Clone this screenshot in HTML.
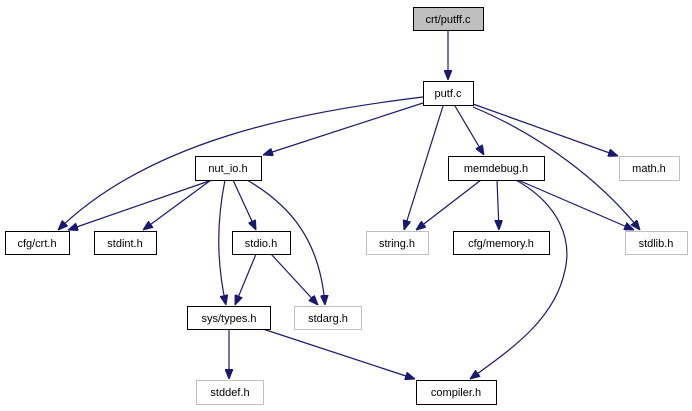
<!DOCTYPE html>
<html><head><meta charset="utf-8"><style>
html,body{margin:0;padding:0;background:#fff}
svg{display:block}
text{font-family:"Liberation Sans",Arial,sans-serif;font-size:11px;text-anchor:middle}
</style></head><body>
<svg width="692" height="411" viewBox="0 0 692 411" xmlns="http://www.w3.org/2000/svg">
<defs><marker id="a" markerWidth="10" markerHeight="8" refX="10" refY="4" orient="auto" markerUnits="userSpaceOnUse"><path d="M0,0 L10,4 L0,8 Z" fill="#191970" stroke="#191970"/></marker></defs>
<g fill="none" stroke="#191970" stroke-width="1.2" marker-end="url(#a)">
<path d="M448,30 L448,80"/>
<path d="M423,97 C300,112 150,140 58,230"/>
<path d="M423,103 L263,155"/>
<path d="M443,106 L404,230"/>
<path d="M455,106 L484,155"/>
<path d="M473,104 L618,156"/>
<path d="M473,107 C540,135 600,180 640,230"/>
<path d="M212,180 L68,230"/>
<path d="M211,180 L143,230"/>
<path d="M225,180 C217,220 216,260 226,305"/>
<path d="M233,180 L256,230"/>
<path d="M247,180 C290,205 320,240 325,305"/>
<path d="M481,180 L416,230"/>
<path d="M497,180 L499,230"/>
<path d="M518,180 L634,230"/>
<path d="M516,180 C560,205 572,240 565,270 C555,320 510,350 470,379"/>
<path d="M256,254 L235,305"/>
<path d="M271,254 L318,305"/>
<path d="M229,329 L229,379"/>
<path d="M263,329 L415,379"/>
</g>
<g stroke-width="1">
<rect x="413.5" y="7.5" width="70" height="23" fill="#bfbfbf" stroke="#000"/>
<rect x="423.5" y="81.5" width="50" height="24" fill="#fff" stroke="#000"/>
<rect x="195.5" y="156.5" width="66" height="24" fill="#fff" stroke="#000"/>
<rect x="448.5" y="156.5" width="96" height="24" fill="#fff" stroke="#000"/>
<rect x="619.5" y="156.5" width="60" height="24" fill="#fff" stroke="#bfbfbf"/>
<rect x="5.5" y="231.5" width="64" height="23" fill="#fff" stroke="#000"/>
<rect x="94.5" y="231.5" width="62" height="23" fill="#fff" stroke="#000"/>
<rect x="232.5" y="231.5" width="58" height="23" fill="#fff" stroke="#000"/>
<rect x="366.5" y="231.5" width="62" height="23" fill="#fff" stroke="#bfbfbf"/>
<rect x="453.5" y="231.5" width="96" height="23" fill="#fff" stroke="#000"/>
<rect x="625.5" y="231.5" width="62" height="23" fill="#fff" stroke="#bfbfbf"/>
<rect x="187.5" y="306.5" width="83" height="23" fill="#fff" stroke="#000"/>
<rect x="294.5" y="306.5" width="67" height="23" fill="#fff" stroke="#bfbfbf"/>
<rect x="196.5" y="380.5" width="67" height="24" fill="#fff" stroke="#bfbfbf"/>
<rect x="416.5" y="380.5" width="80" height="24" fill="#fff" stroke="#000"/>
</g>
<text x="448" y="23">crt/putff.c</text>
<text x="448" y="97">putf.c</text>
<text x="228" y="172">nut_io.h</text>
<text x="496" y="172">memdebug.h</text>
<text x="649" y="172">math.h</text>
<text x="37" y="247">cfg/crt.h</text>
<text x="125" y="247">stdint.h</text>
<text x="261" y="247">stdio.h</text>
<text x="397" y="247">string.h</text>
<text x="501" y="247">cfg/memory.h</text>
<text x="656" y="247">stdlib.h</text>
<text x="229" y="322">sys/types.h</text>
<text x="328" y="322">stdarg.h</text>
<text x="230" y="396">stddef.h</text>
<text x="456" y="396">compiler.h</text>
</svg>
</body></html>
